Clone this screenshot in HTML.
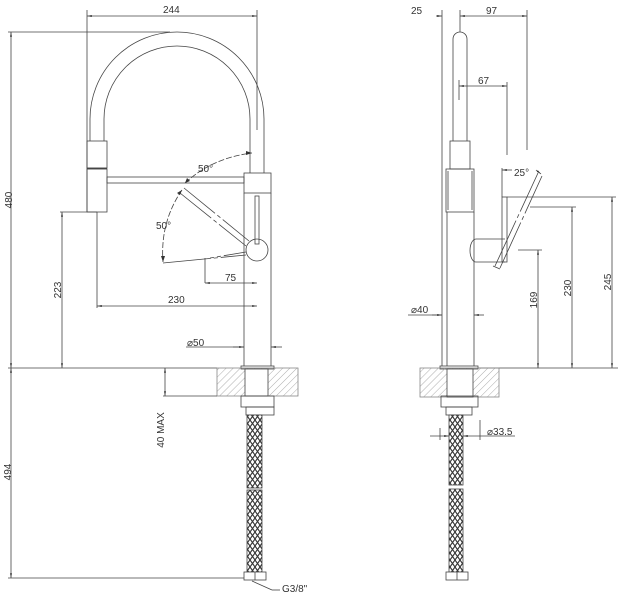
<!DOCTYPE html>
<html><head><meta charset="utf-8"><style>
html,body{margin:0;padding:0;background:#fff;}
svg{display:block;}
text{font-family:"Liberation Sans",sans-serif;font-size:10px;fill:#333;}
.l path,.l line,.l circle{fill:none;}
</style></head><body>
<svg width="620" height="600" viewBox="0 0 620 600" xmlns="http://www.w3.org/2000/svg">
<defs>
<pattern id="hatch" width="5" height="5" patternUnits="userSpaceOnUse" patternTransform="rotate(45)">
<line x1="0" y1="0" x2="0" y2="5" stroke="#999" stroke-width="0.8"/>
</pattern>
<pattern id="hose" width="5" height="7" patternUnits="userSpaceOnUse">
<rect width="5" height="7" fill="#fff"/>
<path d="M0,0 L2.5,3.5 L0,7 M5,0 L2.5,3.5 L5,7" stroke="#333" stroke-width="1.1" fill="none"/>
</pattern>
<marker id="a" viewBox="0 0 10 10" refX="10" refY="5" markerWidth="6" markerHeight="6" orient="auto-start-reverse"><path d="M0,3 L10,5 L0,7z" fill="#333"/></marker>
</defs>
<g class="l" stroke="#444" stroke-width="0.8" fill="none">
<line x1="87" y1="16" x2="257" y2="16" marker-start="url(#a)" marker-end="url(#a)"/>
<line x1="87" y1="10" x2="87" y2="212"/>
<line x1="257" y1="10" x2="257" y2="130"/>
<line x1="11" y1="32" x2="11" y2="368" marker-start="url(#a)" marker-end="url(#a)"/>
<line x1="8" y1="32" x2="170" y2="32"/>
<path d="M90,141 L90,119 A87,87 0 0 1 264,119 L264,173"/>
<path d="M104,141 L104,119 A73,73 0 0 1 250,119 L250,173"/>
<rect x="87" y="141" width="20" height="27" fill="none"/>
<rect x="87" y="169" width="20" height="43" fill="none"/>
<line x1="87" y1="168.5" x2="107" y2="168.5" stroke-width="1.5"/>
<rect x="107" y="177" width="137" height="6" fill="none"/>
<rect x="244" y="173" width="27" height="20" fill="none"/>
<line x1="244" y1="193" x2="244" y2="366"/>
<line x1="271" y1="193" x2="271" y2="366"/>
<rect x="241" y="366" width="33" height="3" fill="none"/>
<rect x="255" y="196" width="4" height="48" fill="none"/>
<circle cx="257" cy="250" r="11" fill="#fff"/>
<line x1="180" y1="193" x2="246" y2="246" stroke-dasharray="40,3,4,3,200"/>
<line x1="184" y1="188" x2="249" y2="241" stroke-dasharray="40,3,4,3,200"/>
<line x1="163" y1="263" x2="246" y2="255" stroke-dasharray="48,3,4,3,200"/>
<line x1="210" y1="258" x2="246" y2="252" stroke-dasharray="4,3,4,3,200"/>
<line x1="205" y1="258" x2="205" y2="283"/>
<path d="M185,183 Q212,158 252,153" fill="none" stroke-dasharray="6,2"/>
<path d="M182,190 Q160,222 163,262" fill="none" stroke-dasharray="6,2"/>
<polygon points="185,183 187,178 190,181" fill="#333" stroke="none"/>
<polygon points="252,153 246,151 246,155" fill="#333" stroke="none"/>
<polygon points="182,190 180,195 177,193" fill="#333" stroke="none"/>
<polygon points="163,262 161,256 165,256" fill="#333" stroke="none"/>
<line x1="205" y1="283" x2="257" y2="283" marker-start="url(#a)" marker-end="url(#a)"/>
<line x1="60" y1="212" x2="97" y2="212"/>
<line x1="62" y1="212" x2="62" y2="368" marker-start="url(#a)" marker-end="url(#a)"/>
<line x1="97" y1="212" x2="97" y2="308"/>
<line x1="97" y1="306" x2="257" y2="306" marker-start="url(#a)" marker-end="url(#a)"/>
<line x1="186" y1="347" x2="244" y2="347"/>
<line x1="233" y1="347" x2="244" y2="347" marker-end="url(#a)"/>
<line x1="282" y1="347" x2="271" y2="347" marker-end="url(#a)"/>
<line x1="8" y1="368" x2="217" y2="368"/>
<rect x="217" y="368" width="81" height="28" fill="url(#hatch)" stroke="#888"/>
<rect x="245" y="369" width="23" height="27" fill="#fff" stroke="#444"/>
<line x1="163" y1="396" x2="217" y2="396"/>
<line x1="165" y1="368" x2="165" y2="396" marker-start="url(#a)" marker-end="url(#a)"/>
<rect x="241" y="396" width="33" height="11" fill="none"/>
<rect x="246" y="407" width="28" height="8" fill="none"/>
<rect x="247" y="415" width="15" height="73" fill="url(#hose)"/>
<rect x="247" y="490" width="15" height="82" fill="url(#hose)"/>
<rect x="244" y="572" width="22" height="8" fill="#fff"/>
<line x1="255" y1="572" x2="255" y2="580"/>
<line x1="11" y1="368" x2="11" y2="578" marker-start="url(#a)" marker-end="url(#a)"/>
<line x1="8" y1="578" x2="244" y2="578"/>
<line x1="252" y1="581" x2="272" y2="590"/>
<line x1="272" y1="590" x2="280" y2="590"/>

<line x1="436" y1="16" x2="442" y2="16" marker-end="url(#a)"/>
<line x1="460" y1="16" x2="527" y2="16" marker-start="url(#a)" marker-end="url(#a)"/>
<line x1="442" y1="10" x2="442" y2="366"/>
<line x1="460" y1="10" x2="460" y2="32"/>
<line x1="527" y1="10" x2="527" y2="150"/>
<path d="M453,141 L453,39 A7,7 0 0 1 467,39 L467,141"/>
<rect x="450" y="141" width="20" height="28" fill="none"/>
<rect x="446" y="169" width="28" height="43" fill="none"/>
<line x1="448" y1="171" x2="448" y2="210"/>
<line x1="472" y1="171" x2="472" y2="210"/>
<line x1="474" y1="212" x2="474" y2="366"/>
<line x1="447" y1="212" x2="447" y2="366"/>
<rect x="440" y="366" width="38" height="3" fill="none"/>
<line x1="459" y1="80" x2="459" y2="100"/>
<line x1="459" y1="86" x2="507" y2="86" marker-start="url(#a)" marker-end="url(#a)"/>
<line x1="507" y1="82" x2="507" y2="155"/>
<path d="M505,239 L476,239 A6,11.5 0 0 0 476,262 L505,262"/>
<rect x="502" y="197" width="5" height="65" fill="none"/>
<line x1="495" y1="266" x2="538" y2="173" stroke-dasharray="50,3,4,3,200"/>
<line x1="500" y1="268" x2="542" y2="176" stroke-dasharray="50,3,4,3,200"/>
<line x1="493" y1="266" x2="500" y2="269"/>
<line x1="502" y1="168" x2="502" y2="197"/>
<line x1="512" y1="170" x2="502" y2="170" marker-end="url(#a)"/>
<line x1="536" y1="170" x2="541" y2="174" marker-end="url(#a)"/>
<line x1="507" y1="197" x2="616" y2="197"/>
<line x1="612" y1="197" x2="612" y2="368" marker-start="url(#a)" marker-end="url(#a)"/>
<line x1="530" y1="207" x2="576" y2="207"/>
<line x1="572" y1="207" x2="572" y2="368" marker-start="url(#a)" marker-end="url(#a)"/>
<line x1="518" y1="250" x2="542" y2="250"/>
<line x1="538" y1="250" x2="538" y2="368" marker-start="url(#a)" marker-end="url(#a)"/>
<line x1="408" y1="315" x2="442" y2="315"/>
<line x1="432" y1="315" x2="442" y2="315" marker-end="url(#a)"/>
<line x1="484" y1="315" x2="474" y2="315" marker-end="url(#a)"/>
<line x1="478" y1="368" x2="618" y2="368"/>
<rect x="420" y="368" width="79" height="29" fill="url(#hatch)" stroke="#888"/>
<rect x="447" y="369" width="26" height="28" fill="#fff" stroke="#444"/>
<rect x="441" y="396" width="37" height="11" fill="none"/>
<rect x="446" y="407" width="26" height="8" fill="none"/>
<rect x="449" y="415" width="14" height="70" fill="url(#hose)"/>
<rect x="449" y="489" width="14" height="83" fill="url(#hose)"/>
<rect x="446" y="572" width="22" height="8" fill="#fff"/>
<line x1="457" y1="572" x2="457" y2="580"/>
<line x1="440" y1="428" x2="440" y2="440"/>
<line x1="480" y1="420" x2="480" y2="440"/>
<line x1="430" y1="436" x2="449" y2="436" marker-end="url(#a)"/>
<line x1="515" y1="436" x2="463" y2="436" marker-end="url(#a)"/>
</g>
<text x="163" y="13">244</text>
<text x="8" y="204" transform="rotate(-90 8 200)" text-anchor="middle">480</text>
<text x="198" y="172">50°</text>
<text x="156" y="229">50°</text>
<text x="225" y="281">75</text>
<text x="168" y="303">230</text>
<text x="61" y="290" transform="rotate(-90 61 290)" text-anchor="middle">223</text>
<text x="187" y="346">⌀50</text>
<text x="164" y="430" transform="rotate(-90 164 430)" text-anchor="middle">40 MAX</text>
<text x="11" y="472" transform="rotate(-90 11 472)" text-anchor="middle">494</text>
<text x="282" y="592">G3/8"</text>
<text x="411" y="14">25</text>
<text x="486" y="14">97</text>
<text x="478" y="84">67</text>
<text x="514" y="176">25°</text>
<text x="411" y="313">⌀40</text>
<text x="487" y="435">⌀33.5</text>
<text x="537" y="300" transform="rotate(-90 537 300)" text-anchor="middle">169</text>
<text x="571" y="288" transform="rotate(-90 571 288)" text-anchor="middle">230</text>
<text x="611" y="282" transform="rotate(-90 611 282)" text-anchor="middle">245</text>
</svg>
</body></html>
